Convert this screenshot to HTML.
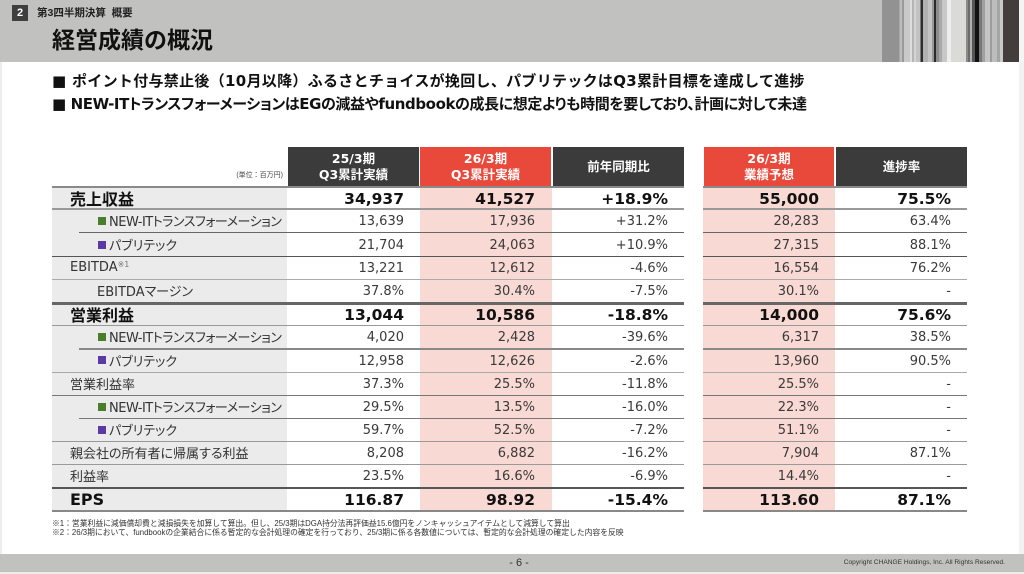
<!DOCTYPE html>
<html><head><meta charset="utf-8"><style>
*{box-sizing:border-box}
body{margin:0;width:1024px;height:574px;position:relative;overflow:hidden;background:#fff;font-family:"DejaVu Sans","Noto Sans CJK JP",sans-serif;color:#333}
.a{position:absolute}
.hdr{left:0;top:0;width:1024px;height:62px;background:#c1c2c0}
.st{position:absolute;top:0;height:62px}
.jp{font-family:"Liberation Sans","Noto Sans CJK JP",sans-serif}
.bul{left:52px;font-size:15px;font-weight:bold;color:#111;white-space:nowrap;line-height:20px;font-family:"DejaVu Sans","Noto Sans CJK JP",sans-serif}
.hc{position:absolute;top:147px;height:40px;color:#fff;font-weight:bold;font-size:12.5px;text-align:center;line-height:16px;display:flex;align-items:center;justify-content:center;flex-direction:column}
.dk{background:#3b3b3b}.rd{background:#e8493b}
.row{position:absolute;left:0;width:1024px}
.row span{position:absolute;top:0;height:100%;display:flex;align-items:center;white-space:nowrap}
.lab{left:70px;font-size:13px;color:#333;font-feature-settings:"palt";padding-bottom:2px}
.ind{left:97px}
.nit{letter-spacing:-0.5px}
.sq{display:inline-block;width:8px;height:8px;margin-right:3px;margin-left:1px}
.g{background:#4c7d2b}.p{background:#5b3aa3}
.v{justify-content:flex-end;padding-right:16px;font-size:13px;color:#3a3a3a}
.c1{left:287px;width:132px;padding-right:15px!important}
.c2{left:419px;width:133px;padding-right:17px!important}
.c3{left:552px;width:132px}
.c4{left:703px;width:132px}
.c5{left:835px;width:132px}
.b{font-weight:bold;font-size:15.5px!important;color:#111!important}
.ln{position:absolute;height:1px;background:#999}
</style></head><body>
<div class="a" style="left:0;top:0;width:2px;height:574px;background:#eee"></div>
<div class="a hdr"></div>
<div class="st" style="left:882px;width:17px;background:#929292"></div>
<div class="st" style="left:899px;width:1px;background:#a8a8a8"></div>
<div class="st" style="left:900px;width:2px;background:#bdbdbd"></div>
<div class="st" style="left:902px;width:2px;background:#9a9a9a"></div>
<div class="st" style="left:904px;width:6px;background:#c9c9c9"></div>
<div class="st" style="left:910px;width:2px;background:#dedede"></div>
<div class="st" style="left:912px;width:2px;background:#b5b5b5"></div>
<div class="st" style="left:914px;width:2px;background:#d4d4d4"></div>
<div class="st" style="left:916px;width:4px;background:#c2c2c2"></div>
<div class="st" style="left:920px;width:1px;background:#777"></div>
<div class="st" style="left:921px;width:2px;background:#2e2e2e"></div>
<div class="st" style="left:923px;width:5px;background:#b2b2b2"></div>
<div class="st" style="left:928px;width:4px;background:#c4c4c4"></div>
<div class="st" style="left:932px;width:2px;background:#999"></div>
<div class="st" style="left:934px;width:2px;background:#2a2a2a"></div>
<div class="st" style="left:936px;width:3px;background:#8d8d8d"></div>
<div class="st" style="left:939px;width:3px;background:#a9a9a9"></div>
<div class="st" style="left:942px;width:5px;background:#c8c8c8"></div>
<div class="st" style="left:947px;width:4px;background:#eeeeee"></div>
<div class="st" style="left:951px;width:15px;background:#dadbd9"></div>
<div class="st" style="left:966px;width:2px;background:#8a8a8a"></div>
<div class="st" style="left:968px;width:2px;background:#6a6a6a"></div>
<div class="st" style="left:970px;width:2px;background:#b0b0b0"></div>
<div class="st" style="left:972px;width:3px;background:#555"></div>
<div class="st" style="left:975px;width:4px;background:#111"></div>
<div class="st" style="left:979px;width:3px;background:#777"></div>
<div class="st" style="left:982px;width:3px;background:#a0a0a0"></div>
<div class="st" style="left:985px;width:5px;background:#c5c5c5"></div>
<div class="st" style="left:990px;width:2px;background:#9c9c9c"></div>
<div class="st" style="left:992px;width:5px;background:#bdbdbd"></div>
<div class="st" style="left:997px;width:3px;background:#a5a5a5"></div>
<div class="st" style="left:1000px;width:3px;background:#c9c9c9"></div>
<div class="st" style="left:1003px;width:16px;background:#433e3c"></div>
<div class="st" style="left:1019px;width:5px;background:#f4f4f4"></div>
<div class="a" style="left:1019px;top:62px;width:5px;height:512px;background:#f2f2f2"></div>

<div class="a" style="left:12px;top:5px;width:16px;height:16px;background:#3f3f3f;color:#fff;font:bold 11px 'Liberation Sans',sans-serif;text-align:center;line-height:16px">2</div>
<div class="a jp" style="left:37px;top:5px;font-size:10.5px;font-weight:bold;color:#222;line-height:16px;white-space:nowrap">第3四半期決算&nbsp;&nbsp;概要</div>
<div class="a jp" style="left:52px;top:26px;font-size:23px;font-weight:bold;color:#111;line-height:28px;white-space:nowrap">経営成績の概況</div>

<div class="a bul" style="top:71px;letter-spacing:0.3px">■ ポイント付与禁止後（10月以降）ふるさとチョイスが挽回し、パブリテックはQ3累計目標を達成して進捗</div>
<div class="a bul" style="top:94px;font-feature-settings:'palt';letter-spacing:-0.4px">■ NEW-ITトランスフォーメーションはEGの減益やfundbookの成長に想定よりも時間を要しており、計画に対して未達</div>

<div class="a jp" style="left:200px;top:171px;width:83px;text-align:right;font-size:7px;color:#444;line-height:10px">(単位：百万円)</div>

<div class="hc dk" style="left:288px;width:131px"><div>25/3期</div><div>Q3累計実績</div></div>
<div class="hc rd" style="left:420px;width:131px"><div>26/3期</div><div>Q3累計実績</div></div>
<div class="hc dk" style="left:553px;width:131px"><div>前年同期比</div></div>
<div class="hc rd" style="left:704px;width:130px"><div>26/3期</div><div>業績予想</div></div>
<div class="hc dk" style="left:836px;width:131px"><div>進捗率</div></div>

<div class="a" style="left:52px;top:187px;width:235px;height:324px;background:#ebebeb"></div>
<div class="a" style="left:420px;top:187px;width:132px;height:324px;background:#f9d9d4"></div>
<div class="a" style="left:703px;top:187px;width:132px;height:324px;background:#f9d9d4"></div>

<!-- rows -->
<div class="row" style="top:188px;height:21px"><span class="lab b jp" style="font-size:16px!important">売上収益</span><span class="v c1 b">34,937</span><span class="v c2 b">41,527</span><span class="v c3 b">+18.9%</span><span class="v c4 b">55,000</span><span class="v c5 b">75.5%</span></div>
<div class="row" style="top:210px;height:23px"><span class="lab ind nit"><i class="sq g"></i>NEW-ITトランスフォーメーション</span><span class="v c1">13,639</span><span class="v c2">17,936</span><span class="v c3">+31.2%</span><span class="v c4">28,283</span><span class="v c5">63.4%</span></div>
<div class="row" style="top:234px;height:23px"><span class="lab ind"><i class="sq p"></i>パブリテック</span><span class="v c1">21,704</span><span class="v c2">24,063</span><span class="v c3">+10.9%</span><span class="v c4">27,315</span><span class="v c5">88.1%</span></div>
<div class="row" style="top:257px;height:23px"><span class="lab">EBITDA<sup style="font-size:8px;color:#777;position:relative;top:-3px">※1</sup></span><span class="v c1">13,221</span><span class="v c2">12,612</span><span class="v c3">-4.6%</span><span class="v c4">16,554</span><span class="v c5">76.2%</span></div>
<div class="row" style="top:280px;height:23px"><span class="lab ind">EBITDAマージン</span><span class="v c1">37.8%</span><span class="v c2">30.4%</span><span class="v c3">-7.5%</span><span class="v c4">30.1%</span><span class="v c5">-</span></div>
<div class="row" style="top:304px;height:22px"><span class="lab b jp" style="font-size:16px!important">営業利益</span><span class="v c1 b">13,044</span><span class="v c2 b">10,586</span><span class="v c3 b">-18.8%</span><span class="v c4 b">14,000</span><span class="v c5 b">75.6%</span></div>
<div class="row" style="top:326px;height:23px"><span class="lab ind nit"><i class="sq g"></i>NEW-ITトランスフォーメーション</span><span class="v c1">4,020</span><span class="v c2">2,428</span><span class="v c3">-39.6%</span><span class="v c4">6,317</span><span class="v c5">38.5%</span></div>
<div class="row" style="top:350px;height:22px"><span class="lab ind"><i class="sq p"></i>パブリテック</span><span class="v c1">12,958</span><span class="v c2">12,626</span><span class="v c3">-2.6%</span><span class="v c4">13,960</span><span class="v c5">90.5%</span></div>
<div class="row" style="top:373px;height:23px"><span class="lab">営業利益率</span><span class="v c1">37.3%</span><span class="v c2">25.5%</span><span class="v c3">-11.8%</span><span class="v c4">25.5%</span><span class="v c5">-</span></div>
<div class="row" style="top:396px;height:23px"><span class="lab ind nit"><i class="sq g"></i>NEW-ITトランスフォーメーション</span><span class="v c1">29.5%</span><span class="v c2">13.5%</span><span class="v c3">-16.0%</span><span class="v c4">22.3%</span><span class="v c5">-</span></div>
<div class="row" style="top:419px;height:23px"><span class="lab ind"><i class="sq p"></i>パブリテック</span><span class="v c1">59.7%</span><span class="v c2">52.5%</span><span class="v c3">-7.2%</span><span class="v c4">51.1%</span><span class="v c5">-</span></div>
<div class="row" style="top:442px;height:23px"><span class="lab">親会社の所有者に帰属する利益</span><span class="v c1">8,208</span><span class="v c2">6,882</span><span class="v c3">-16.2%</span><span class="v c4">7,904</span><span class="v c5">87.1%</span></div>
<div class="row" style="top:465px;height:23px"><span class="lab">利益率</span><span class="v c1">23.5%</span><span class="v c2">16.6%</span><span class="v c3">-6.9%</span><span class="v c4">14.4%</span><span class="v c5">-</span></div>
<div class="row" style="top:489px;height:22px"><span class="lab b" style="font-size:16px!important">EPS</span><span class="v c1 b">116.87</span><span class="v c2 b">98.92</span><span class="v c3 b">-15.4%</span><span class="v c4 b">113.60</span><span class="v c5 b">87.1%</span></div>

<!-- lines left table -->
<div class="ln" style="left:52px;width:632px;top:186px;height:2px;background:#8a8a8a"></div>
<div class="ln" style="left:52px;width:632px;top:208px;height:2px;background:#999"></div>
<div class="ln" style="left:79px;width:605px;top:232px;height:1px;background:#666"></div>
<div class="ln" style="left:52px;width:632px;top:256px;height:1px;background:#555"></div>
<div class="ln" style="left:52px;width:632px;top:279px;height:1px;background:#aaa"></div>
<div class="ln" style="left:52px;width:632px;top:302px;height:3px;background:#666"></div>
<div class="ln" style="left:52px;width:632px;top:325px;height:1px;background:#999"></div>
<div class="ln" style="left:79px;width:605px;top:348px;height:2px;background:#888"></div>
<div class="ln" style="left:52px;width:632px;top:372px;height:1px;background:#aaa"></div>
<div class="ln" style="left:52px;width:632px;top:395px;height:1px;background:#777"></div>
<div class="ln" style="left:79px;width:605px;top:418px;height:1px;background:#777"></div>
<div class="ln" style="left:52px;width:632px;top:441px;height:1px;background:#999"></div>
<div class="ln" style="left:52px;width:632px;top:464px;height:1px;background:#999"></div>
<div class="ln" style="left:52px;width:632px;top:487px;height:2px;background:#555"></div>
<div class="ln" style="left:52px;width:632px;top:510px;height:2px;background:#888"></div>
<!-- lines right table -->
<div class="ln" style="left:703px;width:264px;top:186px;height:2px;background:#8a8a8a"></div>
<div class="ln" style="left:703px;width:264px;top:208px;height:2px;background:#999"></div>
<div class="ln" style="left:703px;width:264px;top:232px;height:1px;background:#666"></div>
<div class="ln" style="left:703px;width:264px;top:256px;height:1px;background:#555"></div>
<div class="ln" style="left:703px;width:264px;top:279px;height:1px;background:#aaa"></div>
<div class="ln" style="left:703px;width:264px;top:302px;height:3px;background:#666"></div>
<div class="ln" style="left:703px;width:264px;top:325px;height:1px;background:#999"></div>
<div class="ln" style="left:703px;width:264px;top:348px;height:2px;background:#888"></div>
<div class="ln" style="left:703px;width:264px;top:372px;height:1px;background:#aaa"></div>
<div class="ln" style="left:703px;width:264px;top:395px;height:1px;background:#777"></div>
<div class="ln" style="left:703px;width:264px;top:418px;height:1px;background:#777"></div>
<div class="ln" style="left:703px;width:264px;top:441px;height:1px;background:#999"></div>
<div class="ln" style="left:703px;width:264px;top:464px;height:1px;background:#999"></div>
<div class="ln" style="left:703px;width:264px;top:487px;height:2px;background:#555"></div>
<div class="ln" style="left:703px;width:264px;top:510px;height:2px;background:#888"></div>

<div class="a jp" style="left:52px;top:519px;font-size:7.8px;line-height:9px;color:#333;white-space:nowrap">※1：営業利益に減価償却費と減損損失を加算して算出。但し、25/3期はDGA持分法再評価益15.6億円をノンキャッシュアイテムとして減算して算出<br>※2：26/3期において、fundbookの企業結合に係る暫定的な会計処理の確定を行っており、25/3期に係る各数値については、暫定的な会計処理の確定した内容を反映</div>

<div class="a" style="left:0;top:554px;width:1024px;height:18px;background:#c1c2c0"></div>
<div class="a" style="left:0;top:572px;width:1024px;height:2px;background:#ececec"></div>
<div class="a jp" style="left:489px;top:555px;width:60px;text-align:center;font-size:11px;line-height:16px;color:#333">- 6 -</div>
<div class="a jp" style="left:800px;top:557px;width:205px;text-align:right;font-size:6.6px;line-height:12px;color:#333;white-space:nowrap">Copyright CHANGE Holdings, Inc. All Rights Reserved.</div>
</body></html>
